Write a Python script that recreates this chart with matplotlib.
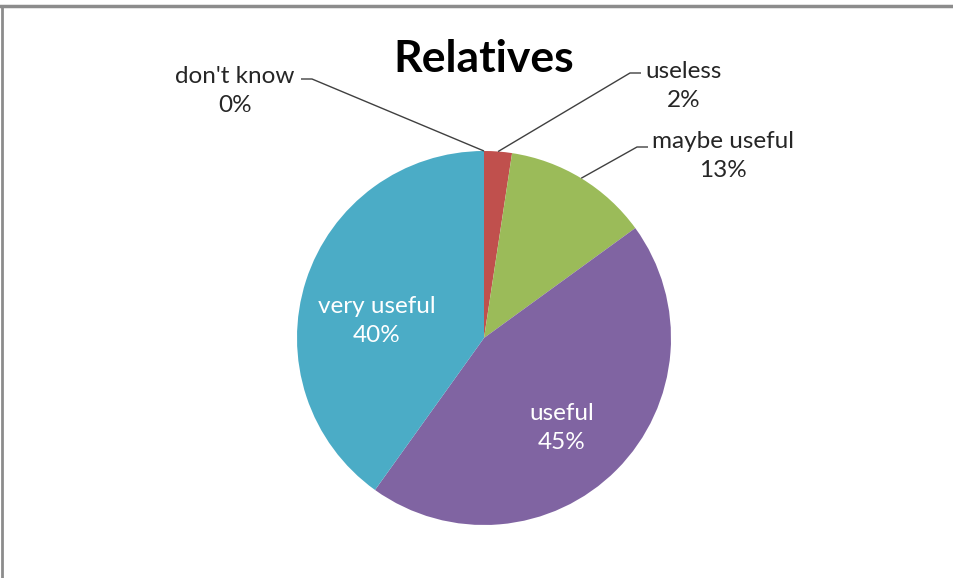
import matplotlib
matplotlib.use("Agg")
import matplotlib.pyplot as plt
import numpy as np

categories = ["don't know", "useless", "maybe useful", "useful", "very useful"]
values = [0.0, 2.4, 12.6, 44.9, 40.1]
colors = ["#4F81BD", "#C0504D", "#9BBB59", "#8064A2", "#4BACC6"]
title = "Relatives"

W, H = 954, 578
fig = plt.figure(figsize=(W / 100, H / 100), dpi=100)
ax = fig.add_axes([0, 0, 1, 1])

FONT = "Lato"
FS = 17.5
LS = 1.45
cx, cy, R = 484, H - 338, 187

wedges, _ = ax.pie(values, colors=colors, startangle=90, counterclock=False,
                   center=(cx, cy), radius=R, frame=True,
                   wedgeprops=dict(linewidth=0))
ax.set_xlim(0, W)
ax.set_ylim(0, H)
ax.set_aspect("equal")
ax.axis("off")

labels = [f"{c}\n{round(v)}%" for c, v in zip(categories, values)]

# outside labels: (text center x, text center y from top, leader elbow x, elbow y, side)
outside = {
    0: (235, 91, 312, 79, -1),
    1: (684, 86, 630, 73, 1),
    2: (723, 156, 637, 147, 1),
}
inside = {
    3: (562, 428),
    4: (377, 321),
}

for i, w in enumerate(wedges):
    mid = np.deg2rad((w.theta1 + w.theta2) / 2)
    if i in outside:
        tx, ty, ex, ey, side = outside[i]
        px = cx + R * np.cos(mid)
        py = cy + R * np.sin(mid)
        ex2 = ex + side * 11
        ax.plot([px, ex, ex2], [py, H - ey, H - ey], color="#404040", lw=1.0,
                solid_capstyle="butt")
        ax.text(tx, H - ty, labels[i], ha="center", va="center", fontsize=FS,
                family=FONT, color="#262626", linespacing=LS)
    else:
        tx, ty = inside[i]
        ax.text(tx, H - ty, labels[i], ha="center", va="center", fontsize=FS,
                family=FONT, color="white", linespacing=LS)

ax.text(484, H - 59, title, ha="center", va="center", fontsize=32,
        family=FONT, fontweight="bold", color="black")

# chart area border (top and left visible)
ax.plot([0, W], [H - 5.5, H - 5.5], color="#8c8c8c", lw=2.5, clip_on=False)
ax.plot([2, 2], [0, H - 5.5], color="#8c8c8c", lw=2.0, clip_on=False)

fig.savefig("out.png", dpi=100)
